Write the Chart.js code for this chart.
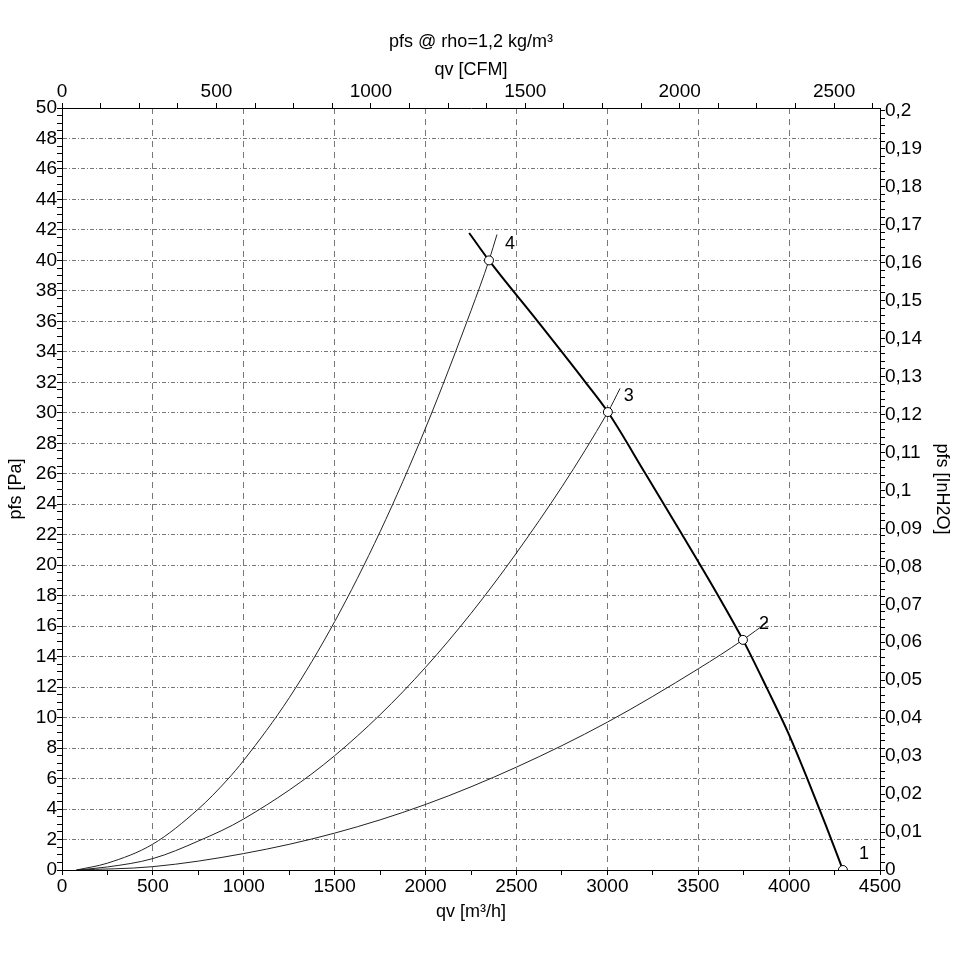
<!DOCTYPE html>
<html>
<head>
<meta charset="utf-8">
<script src="https://cdn.jsdelivr.net/npm/chart.js@4.4.1/dist/chart.umd.min.js"></script>
<style>
  html, body { margin: 0; padding: 0; background: #ffffff; }
  #wrap { width: 974px; height: 969px; }
</style>
</head>
<body>
<div id="wrap"><canvas id="c" width="974" height="969"></canvas></div>
<script>
// ---- data ----
// fan characteristic (thick curve): qv [m3/h], pfs [Pa]
const qvFan = [2240, 2349, 2617, 2880, 3003, 3210, 3412, 3610, 3746, 3875, 3995, 4100, 4200, 4296];
const pFan  = [41.8, 40.0, 36.0, 32.0, 30.05, 26.0, 22.0, 18.0, 15.1, 12.0, 9.0, 6.0, 3.0, 0.0];

// system curves (thin)
const qvSys4 = [80, 250, 500, 750, 908, 1000, 1250, 1500, 1750, 2000, 2250, 2349, 2393];
const pSys4  = [0, 0.45, 1.7, 4.0, 5.9, 7.2, 11.3, 16.3, 22.2, 29.0, 36.7, 40.0, 41.7];
const qvSys3 = [80, 250, 500, 750, 1000, 1500, 2000, 2500, 3003, 3070];
const pSys3  = [0, 0.2, 0.75, 1.9, 3.35, 7.5, 13.3, 20.8, 30.05, 31.6];
const qvSys2 = [80, 500, 1000, 1500, 2000, 2500, 3000, 3500, 3746, 3884];
const pSys2  = [0, 0.22, 1.08, 2.42, 4.3, 6.75, 9.7, 13.2, 15.1, 16.3];

// operating points
const qvOp = [4296, 3746, 3003, 2349];
const pOp  = [0, 15.1, 30.05, 40.0];
const opLabels = ['1', '2', '3', '4'];

// axis ranges / ticks
const qvMax = 4500;            // m3/h
const pMax = 50;               // Pa
const cfmPerM3h = 1 / 1.699011;
const inH2OPerPa = 1 / 249.0889;

const titleText = 'pfs @ rho=1,2 kg/m³';
const xTitle = 'qv [m³/h]';
const x2Title = 'qv [CFM]';
const yTitle = 'pfs [Pa]';
const y2Title = 'pfs [InH2O]';

// ---- build ----
const pts = (xs, ys) => xs.map((x, i) => ({x: x, y: ys[i]}));
const FONT = 'Liberation Sans, Arial, sans-serif';
const TICK_SIZE = 19;
const TITLE_SIZE = 18;
const isMult = (v, m) => Math.abs(v / m - Math.round(v / m)) < 1e-6;

const opLabelPlugin = {
  id: 'opLabels',
  afterDatasetsDraw(chart) {
    const {ctx, scales} = chart;
    ctx.save();
    ctx.font = '18px ' + FONT;
    ctx.fillStyle = '#000';
    ctx.textAlign = 'center';
    ctx.textBaseline = 'middle';
    qvOp.forEach((q, i) => {
      const px = scales.x.getPixelForValue(q);
      const py = scales.y.getPixelForValue(pOp[i]);
      ctx.fillText(opLabels[i], px + 21, py - 16);
    });
    ctx.restore();
  }
};

const tickCol = '#000';
const gridCol = 'rgba(120,120,120,1)';
const tickFont = { family: FONT, size: TICK_SIZE, lineHeight: 1.2 };
const titleFont = { family: FONT, size: TITLE_SIZE, lineHeight: 1.2 };

new Chart(document.getElementById('c'), {
  type: 'line',
  data: {
    datasets: [
      { data: pts(qvOp, pOp), showLine: false, pointRadius: 4.5, pointBackgroundColor: '#fff', pointBorderColor: '#000', pointBorderWidth: 1 },
      { data: pts(qvFan, pFan), borderColor: '#000', borderWidth: 2, pointRadius: 0, cubicInterpolationMode: 'monotone' },
      { data: pts(qvSys4, pSys4), borderColor: '#222', borderWidth: 1, pointRadius: 0, cubicInterpolationMode: 'monotone' },
      { data: pts(qvSys3, pSys3), borderColor: '#222', borderWidth: 1, pointRadius: 0, cubicInterpolationMode: 'monotone' },
      { data: pts(qvSys2, pSys2), borderColor: '#222', borderWidth: 1, pointRadius: 0, cubicInterpolationMode: 'monotone' }
    ]
  },
  options: {
    responsive: false,
    animation: false,
    devicePixelRatio: 1,
    layout: { padding: 0 },
    plugins: {
      legend: { display: false },
      tooltip: { enabled: false },
      title: {
        display: true, text: titleText, color: '#000', fullSize: false,
        font: { family: FONT, size: TITLE_SIZE, weight: 'normal', lineHeight: 1.2 },
        padding: { top: 31, bottom: 0 }
      }
    },
    scales: {
      x: {
        type: 'linear', position: 'bottom', min: 0, max: qvMax, bounds: 'data',
        afterFit: s => { s.height = 969 - 870; },
        ticks: { stepSize: 250, autoSkip: false, maxRotation: 0, padding: 0, color: '#000',
          font: tickFont, callback: v => isMult(v, 500) ? String(v) : '' },
        grid: { drawOnChartArea: true, drawTicks: true, tickLength: 5, tickColor: tickCol, lineWidth: 1,
          color: c => (c.tick && isMult(c.tick.value, 500) && c.tick.value > 0 && c.tick.value < qvMax) ? gridCol : 'rgba(0,0,0,0)' },
        border: { display: true, color: '#000', width: 1, dash: [6, 5] },
        title: { display: true, text: xTitle, color: '#000', font: titleFont, padding: { top: 0, bottom: 46 } }
      },
      x2: {
        type: 'linear', position: 'top', min: 0, max: qvMax * cfmPerM3h, bounds: 'data',
        afterFit: s => { s.height = 55.4; },
        ticks: { stepSize: 125, autoSkip: false, maxRotation: 0, padding: 0, includeBounds: false, color: '#000',
          font: tickFont, callback: v => isMult(v, 500) ? String(v) : '' },
        grid: { drawOnChartArea: false, drawTicks: true, tickLength: 5, tickColor: tickCol },
        border: { display: true, color: '#000', width: 1 },
        title: { display: true, text: x2Title, color: '#000', font: titleFont, padding: { top: 6.6, bottom: 0 } }
      },
      y: {
        type: 'linear', position: 'left', min: 0, max: pMax, bounds: 'data',
        afterFit: s => { s.width = 62; },
        ticks: { stepSize: 0.5, autoSkip: false, padding: 0, color: '#000',
          font: tickFont, callback: v => isMult(v, 2) ? String(v) : '' },
        grid: { drawOnChartArea: true, drawTicks: true, tickLength: 5, tickColor: tickCol, lineWidth: 1,
          color: c => (c.tick && isMult(c.tick.value, 2) && c.tick.value > 0 && c.tick.value < pMax) ? gridCol : 'rgba(0,0,0,0)' },
        border: { display: true, color: '#000', width: 1, dash: [4, 2, 1, 2] },
        title: { display: true, text: yTitle, color: '#000', font: titleFont, padding: { top: 5, bottom: 0 } }
      },
      y2: {
        type: 'linear', position: 'right', min: 0, max: pMax * inH2OPerPa, bounds: 'data',
        afterFit: s => { s.width = 974 - 880; },
        ticks: { stepSize: 0.002, autoSkip: false, padding: 0, includeBounds: false, color: '#000',
          font: tickFont,
          callback: v => isMult(v, 0.01) ? String(Math.round(v * 100) / 100).replace('.', ',') : '' },
        grid: { drawOnChartArea: false, drawTicks: true, tickLength: 5, tickColor: tickCol },
        border: { display: true, color: '#000', width: 1 },
        title: { display: true, text: y2Title, color: '#000', font: titleFont, padding: { top: 21, bottom: 0 } }
      }
    }
  },
  plugins: [opLabelPlugin]
});
</script>
</body>
</html>
